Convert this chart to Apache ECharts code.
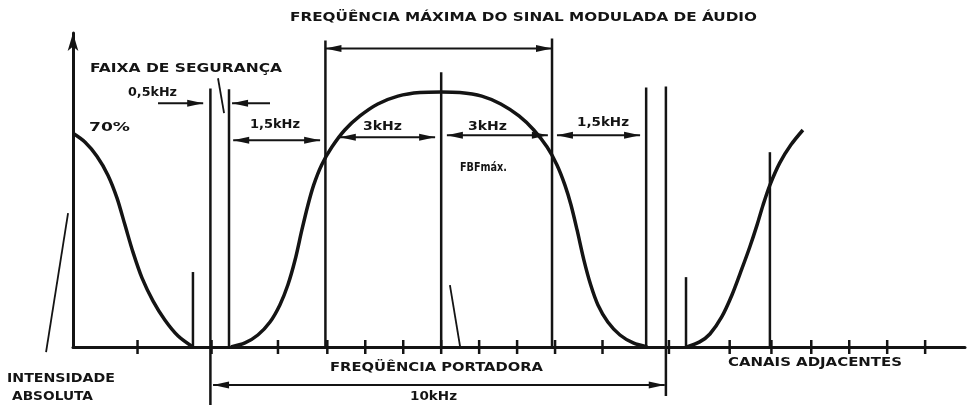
<!DOCTYPE html>
<html>
<head>
<meta charset="utf-8">
<script src="https://cdn.jsdelivr.net/npm/echarts@6/dist/echarts.min.js"></script>
<style>
  html, body { margin: 0; background: #fff; }
  #chart { width: 972px; height: 409px; }
</style>
</head>
<body>
<div id="chart"></div>
<script>
// x: frequency in kHz relative to the carrier, y: relative intensity (peak = 100)
const leftChannel = [
  [-9.70, 83.8], [-9.38, 80.3], [-9.07, 74.8], [-8.78, 67.4], [-8.54, 58.4], [-8.33, 47.8],
  [-8.12, 37.2], [-7.88, 27.0], [-7.59, 18.0], [-7.28, 10.6], [-6.93, 4.3], [-6.54, 0]
]
const mainChannel = [
  [-5.54, 0], [-5.17, 1.6], [-4.83, 4.7], [-4.51, 9.8], [-4.25, 16.5], [-4.04, 24.3],
  [-3.85, 34.1], [-3.67, 45.9], [-3.51, 55.7], [-3.36, 63.5], [-3.15, 71.4], [-2.88, 78.4],
  [-2.54, 85.1], [-2.14, 90.6], [-1.67, 95.3], [-1.14, 98.4], [-0.56, 99.8], [0, 100],
  [0.49, 99.8], [1.07, 98.4], [1.57, 95.3], [2.05, 90.6], [2.44, 85.1], [2.79, 78.4],
  [3.05, 71.4], [3.26, 63.5], [3.42, 55.7], [3.58, 45.9], [3.76, 34.1], [3.94, 24.3],
  [4.13, 16.5], [4.39, 9.8], [4.71, 4.7], [5.06, 1.6], [5.43, 0]
]
const rightChannel = [
  [6.47, 0], [6.81, 2.0], [7.08, 5.1], [7.39, 11.8], [7.66, 20.4], [7.92, 30.6],
  [8.13, 39.2], [8.32, 47.8], [8.48, 55.7], [8.66, 63.5], [8.92, 72.2], [9.21, 79.2],
  [9.53, 85.1]
]
// tick marks on the frequency axis
const axisTicks = [-8.0, -6.05, -4.3, -3, -2, -1, 0, 1, 2, 3, 4.25, 6.0, 7.6, 8.7, 9.75, 10.75, 11.75, 12.75]
// vertical marker lines: [x, top, bottom]
const markers = [
  [-6.54, 29.4, 0], [-6.08, 101.4, -22.7], [-5.59, 101.1, 0], [-3.05, 120.2, 0],
  [0, 107.7, 0], [2.92, 121.0, 0], [5.40, 101.8, 0], [5.92, 102.2, -19.2],
  [6.45, 27.4, 0], [8.66, 76.4, 0]
]
// dimension arrows: [x1, x2, y, head at x1, head at x2]
const spans = [
  [-3.05, 2.92, 117.1, 1, 1],
  [-7.46, -6.27, 95.6, 0, 1],
  [-5.51, -4.51, 95.6, 1, 0],
  [-5.48, -3.19, 81.1, 1, 1],
  [-2.67, -0.16, 82.3, 1, 1],
  [0.15, 2.81, 83.0, 1, 1],
  [3.05, 5.24, 83.0, 1, 1],
  [-6.01, 5.89, -14.9, 1, 1]
]
// leader lines: [x1, y1, x2, y2]
const pointers = [
  [-5.88, 105.4, -5.72, 91.7],
  [-9.83, 52.5, -10.41, -2.0],
  [0.23, 24.3, 0.50, 0]
]

const ink = '#141414'
const labelFont = 'bold 13px "DejaVu Sans"'
const measureCtx = document.createElement('canvas').getContext('2d')

// text stretched to the width it takes in the scan
const label = (text, x, y, width) => {
  measureCtx.font = labelFont
  const w = measureCtx.measureText(text).width
  return {
    type: 'text',
    x: x,
    y: y,
    scaleX: width / w,
    style: {
      text: text,
      font: labelFont,
      fill: ink,
      align: 'left',
      verticalAlign: 'middle',
      textAlign: 'left',
      textVerticalAlign: 'middle'
    }
  }
}

const renderTick = (params, api) => {
  const p = api.coord([api.value(0), 0])
  return {
    type: 'line',
    shape: { x1: p[0], y1: p[1] - 7, x2: p[0], y2: p[1] + 7 },
    style: { stroke: ink, lineWidth: 2.5 }
  }
}

const renderMarker = (params, api) => {
  const a = api.coord([api.value(0), api.value(1)])
  const b = api.coord([api.value(0), api.value(2)])
  return {
    type: 'line',
    shape: { x1: a[0], y1: a[1], x2: b[0], y2: b[1] },
    style: { stroke: ink, lineWidth: 2.5 }
  }
}

const renderSpan = (params, api) => {
  const y = api.value(2)
  const a = api.coord([api.value(0), y])
  const b = api.coord([api.value(1), y])
  const len = 16
  const half = 3.5
  const children = [{
    type: 'line',
    shape: { x1: a[0], y1: a[1], x2: b[0], y2: b[1] },
    style: { stroke: ink, lineWidth: 2 }
  }]
  if (api.value(3)) {
    children.push({
      type: 'polygon',
      shape: { points: [[a[0], a[1]], [a[0] + len, a[1] - half], [a[0] + len, a[1] + half]] },
      style: { fill: ink }
    })
  }
  if (api.value(4)) {
    children.push({
      type: 'polygon',
      shape: { points: [[b[0], b[1]], [b[0] - len, b[1] - half], [b[0] - len, b[1] + half]] },
      style: { fill: ink }
    })
  }
  return { type: 'group', children: children }
}

const renderPointer = (params, api) => {
  const a = api.coord([api.value(0), api.value(1)])
  const b = api.coord([api.value(2), api.value(3)])
  return {
    type: 'line',
    shape: { x1: a[0], y1: a[1], x2: b[0], y2: b[1] },
    style: { stroke: ink, lineWidth: 1.8 }
  }
}

const curve = (data) => ({
  type: 'line',
  data: data,
  smooth: 0.3,
  symbol: 'none',
  silent: true,
  lineStyle: { color: ink, width: 3.5 },
  z: 3
})

const chart = echarts.init(document.getElementById('chart'))

chart.setOption({
  backgroundColor: '#fff',
  animation: false,
  grid: { left: 73, right: 7, top: 33, bottom: 62 },
  xAxis: {
    type: 'value',
    min: -9.7,
    max: 13.8,
    axisLine: { show: true, onZero: false, lineStyle: { color: ink, width: 3 } },
    axisTick: { show: false },
    axisLabel: { show: false },
    splitLine: { show: false }
  },
  yAxis: {
    type: 'value',
    min: 0,
    max: 123.14,
    axisLine: {
      show: true,
      onZero: false,
      symbol: ['none', 'arrow'],
      symbolSize: [8, 18],
      lineStyle: { color: ink, width: 3 }
    },
    axisTick: { show: false },
    axisLabel: { show: false },
    splitLine: { show: false }
  },
  graphic: [
    label('FREQÜÊNCIA MÁXIMA DO SINAL MODULADA DE ÁUDIO', 290, 18, 467),
    label('FAIXA DE SEGURANÇA', 90, 69, 192),
    label('0,5kHz', 128, 93, 49),
    label('70%', 89, 128, 41),
    label('1,5kHz', 250, 125, 50),
    label('3kHz', 363, 127, 39),
    label('3kHz', 468, 127, 39),
    label('1,5kHz', 577, 123, 52),
    label('FBFmáx.', 460, 168, 47),
    label('INTENSIDADE', 7, 379, 108),
    label('ABSOLUTA', 12, 397, 81),
    label('FREQÜÊNCIA PORTADORA', 330, 368, 213),
    label('10kHz', 410, 397, 47),
    label('CANAIS ADJACENTES', 728, 363, 174)
  ],
  series: [
    curve(leftChannel),
    curve(mainChannel),
    curve(rightChannel),
    { type: 'custom', renderItem: renderTick, data: axisTicks.map(v => [v, 0]), silent: true },
    { type: 'custom', renderItem: renderMarker, data: markers, silent: true },
    { type: 'custom', renderItem: renderSpan, data: spans, silent: true },
    { type: 'custom', renderItem: renderPointer, data: pointers, silent: true }
  ]
})
</script>
</body>
</html>
